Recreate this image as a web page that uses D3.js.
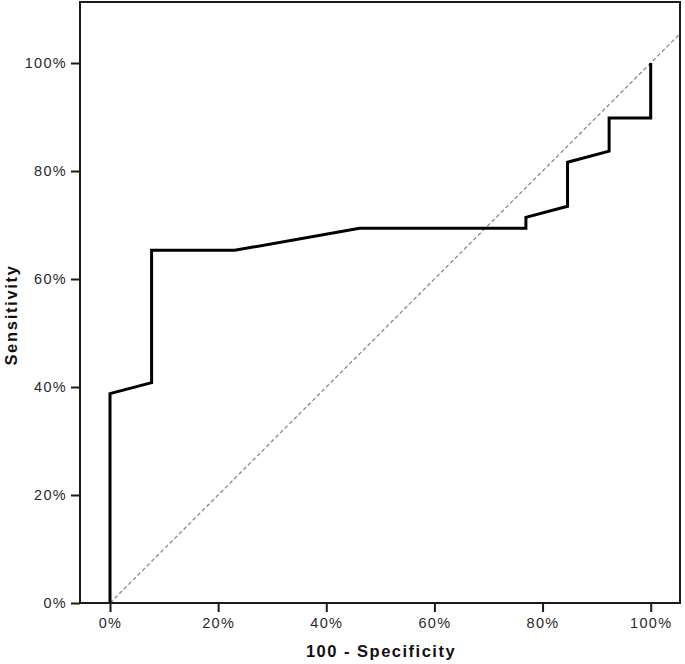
<!DOCTYPE html>
<html><head><meta charset="utf-8">
<script src="https://cdn.jsdelivr.net/npm/d3@7"></script>
<style>
html,body{margin:0;padding:0;background:#fff;}
svg{display:block;font-family:"Liberation Sans",Arial,sans-serif;}
</style></head>
<body>
<svg id="chart" width="685" height="664"></svg>
<script>
// ROC curve data (percent)
const fpr = [0, 0, 7.69, 7.69, 23.08, 46.15, 76.92, 76.92, 84.62, 84.62, 92.31, 92.31, 100, 100];
const tpr = [0, 38.78, 40.82, 65.31, 65.31, 69.39, 69.39, 71.43, 73.47, 81.63, 83.67, 89.80, 89.80, 100];
const xTicks = [0, 20, 40, 60, 80, 100];
const yTicks = [0, 20, 40, 60, 80, 100];
const xTitle = "100 - Specificity";
const yTitle = "Sensitivity";

const svg = d3.select("#chart");
const x = d3.scaleLinear().domain([-5.55, 105.42]).range([80, 680]);
const y = d3.scaleLinear().domain([0, 111.3]).range([603, 2]);

// reference diagonal
svg.append("line")
  .attr("x1", x(0)).attr("y1", y(0))
  .attr("x2", x(105.42)).attr("y2", y(105.42))
  .attr("stroke", "#8a8a8a").attr("stroke-width", 1.3)
  .attr("stroke-dasharray", "4,2.5");

// ROC line
const pts = fpr.map((f, i) => [f, tpr[i]]);
svg.append("path")
  .datum(pts)
  .attr("fill", "none")
  .attr("stroke", "#000")
  .attr("stroke-width", 3)
  .attr("stroke-linejoin", "miter")
  .attr("d", d3.line().x(d => x(d[0])).y(d => y(d[1])));

// frame
svg.append("rect")
  .attr("x", 80).attr("y", 2)
  .attr("width", 600).attr("height", 601)
  .attr("fill", "none").attr("stroke", "#1a1a1a").attr("stroke-width", 2);

// axes
const xAxis = d3.axisBottom(x).tickValues(xTicks).tickFormat(d => d + "%").tickSize(9).tickPadding(6);
const gx = svg.append("g").attr("transform", "translate(0,603)").call(xAxis);
gx.select(".domain").remove();
gx.selectAll(".tick line").attr("stroke", "#1a1a1a").attr("stroke-width", 2);
gx.selectAll(".tick text").attr("font-size", "14.5px").attr("fill", "#2a2a2a")
  .attr("letter-spacing", "1.3px").attr("font-family", '"Liberation Sans",Arial,sans-serif');

const yAxis = d3.axisLeft(y).tickValues(yTicks).tickFormat(d => d + "%").tickSize(9).tickPadding(4);
const gy = svg.append("g").attr("transform", "translate(80,0)").call(yAxis);
gy.select(".domain").remove();
gy.selectAll(".tick line").attr("stroke", "#1a1a1a").attr("stroke-width", 2);
gy.selectAll(".tick text").attr("font-size", "14.5px").attr("fill", "#2a2a2a")
  .attr("letter-spacing", "1.3px").attr("font-family", '"Liberation Sans",Arial,sans-serif');

// titles
svg.append("text")
  .attr("x", 381).attr("y", 657)
  .attr("text-anchor", "middle")
  .attr("font-size", "16.5px").attr("font-weight", "bold").attr("fill", "#111")
  .attr("letter-spacing", "1.5px")
  .text(xTitle);

svg.append("text")
  .attr("transform", "translate(17,315) rotate(-90)")
  .attr("text-anchor", "middle")
  .attr("font-size", "16.5px").attr("font-weight", "bold").attr("fill", "#111")
  .attr("letter-spacing", "1.7px")
  .text(yTitle);
</script>
</body></html>
